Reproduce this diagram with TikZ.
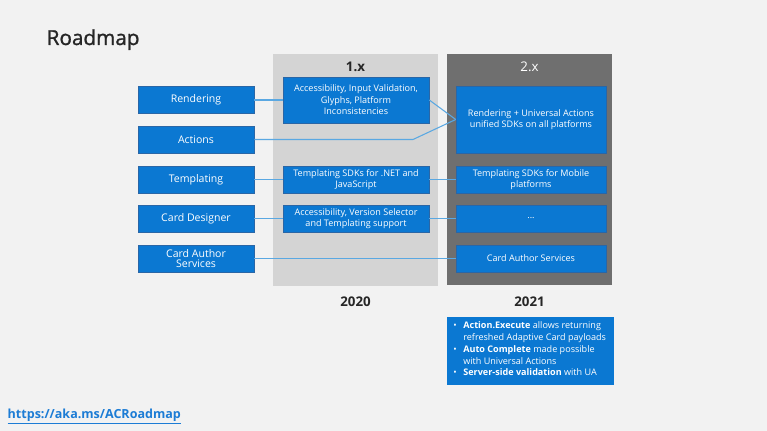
\documentclass[tikz,border=0pt]{standalone}
\usepackage{fontspec}
\setmainfont{Open Sans}
\newfontfamily\headfont[FakeBold=1.2]{Open Sans}
\definecolor{slidebg}{HTML}{F2F2F2}
\definecolor{oldcol}{HTML}{D4D4D4}
\definecolor{newcol}{HTML}{6F6F6F}
\definecolor{msblue}{HTML}{0B78D2}
\definecolor{boxedge}{HTML}{2A66A6}
\definecolor{linkblue}{HTML}{5AA8E2}
\definecolor{titlegray}{HTML}{262626}
\definecolor{urlblue}{HTML}{1C7CD5}
\begin{document}
\begin{tikzpicture}[x=0.75pt,y=-0.75pt,
		area/.style={text=white,fill=msblue,draw=boxedge,line width=0.4pt,inner sep=1pt,align=center},
		feature/.style={area,minimum width=87pt,minimum height=20.25pt,font=\fontsize{7.9}{8.6}\selectfont},
		item/.style={area,minimum width=109.5pt,minimum height=20.25pt,font=\fontsize{6.8}{8.7}\selectfont},
		target/.style={area,minimum width=112.5pt,minimum height=20.25pt,font=\fontsize{6.8}{8.7}\selectfont},
		link/.style={draw=linkblue,line width=0.8pt}]
		\useasboundingbox (0,0) rectangle (767,431);
		\fill[slidebg] (0,0) rectangle (767,431);
		\node[anchor=base west,text=titlegray,font=\headfont\fontsize{15.5}{18}\selectfont](T) at (42,45) {Roadmap};
		% version columns
		\fill[oldcol] (273,54) rectangle (438,286);
		\fill[newcol] (447,54) rectangle (612,285);
		\node[text=titlegray,font=\fontsize{10}{12}\selectfont\bfseries](V1) at (355.5,67) {1.x};
		\node[text=white,font=\fontsize{10}{12}\selectfont](V2) at (529.5,67) {2.x};
		\node[text=titlegray,font=\fontsize{10}{12}\selectfont\bfseries](Y1) at (355.5,302) {2020};
		\node[text=titlegray,font=\fontsize{10}{12}\selectfont\bfseries](Y2) at (529.5,302) {2021};
		% areas
		\node[feature](rend) at (196,100) {Rendering};
		\node[feature](act) at (196,139.5) {Actions};
		\node[feature](tmpl) at (196,179.5) {Templating};
		\node[feature](dsgn) at (196,218.5) {Card Designer};
		\node[feature,font=\fontsize{7.9}{7.6}\selectfont](cas) at (196,258.5) {Card Author\\Services};
		% 1.x
		\node[item,minimum height=34.5pt](acc) at (356,100) {Accessibility, Input Validation,\\Glyphs, Platform\\Inconsistencies};
		\node[item](tsdk) at (356,179.5) {Templating SDKs for .NET and\\JavaScript};
		\node[item](vsel) at (356,218.5) {Accessibility, Version Selector\\and Templating support};
		% 2.x
		\node[target,minimum height=50.25pt](uni) at (531,119.5) {Rendering + Universal Actions\\unified SDKs on all platforms};
		\node[target](mob) at (531,179.5) {Templating SDKs for Mobile\\platforms};
		\node[target](dots) at (531,218.5) {...};
		\node[target](cas2) at (531,258.5) {Card Author Services};
		% connectors
		\coordinate (bend) at (413,139.5);
		\draw[link] (rend.east) -- (acc.west);
		\draw[link] (acc.east) -- (uni.west);
		\draw[link] (act.east) -- (bend) -- (uni.west);
		\draw[link] (tmpl.east) -- (tsdk.west);
		\draw[link] (tsdk.east) -- (mob.west);
		\draw[link] (dsgn.east) -- (vsel.west);
		\draw[link] (vsel.east) -- (dots.west);
		\draw[link] (cas.east) -- (cas2.west);
		% 2021 notes
		\fill[msblue] (447,317) rectangle (614,385);
		\node[anchor=north west,text=white,inner sep=0pt,align=left,font=\fontsize{6.8}{8.8}\selectfont](notes) at (453,320.5) {%
			\begin{tabular}{@{}l@{\hspace{5pt}}l@{}}
				\textbullet & \textbf{Action.Execute} allows returning\\
				& refreshed Adaptive Card payloads\\
				\textbullet & \textbf{Auto Complete} made possible\\
				& with Universal Actions\\
				\textbullet & \textbf{Server-side validation} with UA
			\end{tabular}};
		\node[anchor=base west,text=urlblue,font=\fontsize{9.4}{12}\selectfont\bfseries](url) at (3,418) {\underline{https://aka.ms/ACRoadmap}};
\end{tikzpicture}
\end{document}
